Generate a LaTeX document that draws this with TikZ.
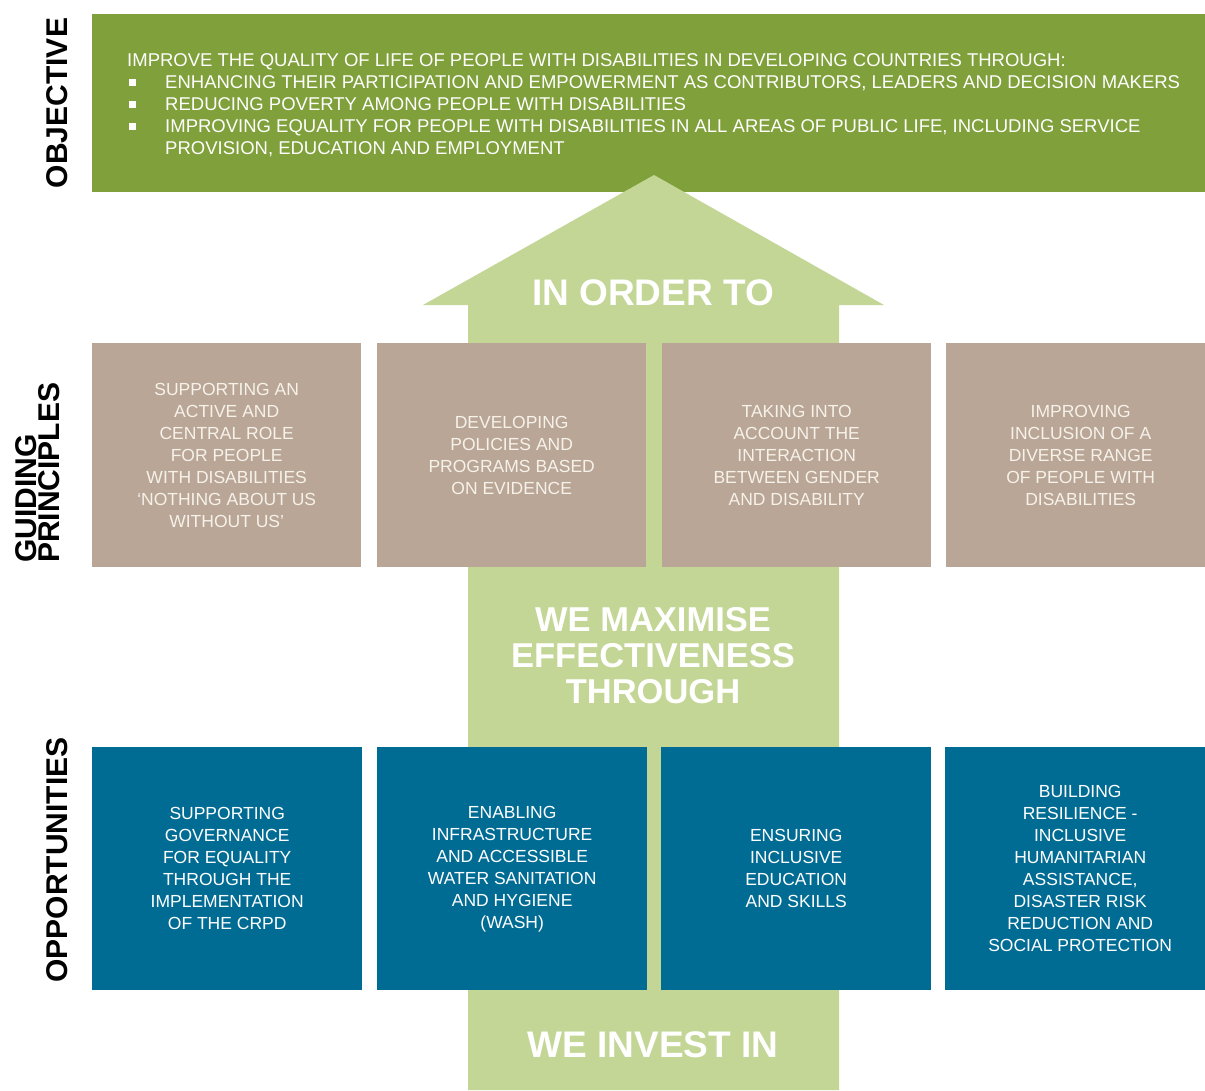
\documentclass[tikz,border=0pt]{standalone}
\usepackage{fontspec}
\setmainfont{Liberation Sans}
\definecolor{objgreen}{RGB}{127,160,58}
\definecolor{arrowgreen}{RGB}{195,214,150}
\definecolor{tanbox}{RGB}{185,166,150}
\definecolor{bluebox}{RGB}{0,108,148}
\definecolor{tantext}{RGB}{246,242,234}
\newcommand{\objbullet}{\makebox[38pt][l]{\hspace*{2pt}\raisebox{3pt}{\rule{6.5pt}{6.5pt}}}}
\begin{document}
\begin{tikzpicture}[x=1pt,y=-1pt,
  sidelabel/.style={rotate=90,font=\fontsize{30}{23}\selectfont\bfseries,text=black,inner sep=0pt,align=left},
  gpbox/.style={fill=tanbox,text=tantext,minimum width=269pt,minimum height=224pt,inner sep=0pt,anchor=north west,align=center,font=\fontsize{17.5}{22}\selectfont},
  opbox/.style={fill=bluebox,text=white,minimum width=270pt,minimum height=243pt,inner sep=0pt,anchor=north west,align=center,font=\fontsize{17.5}{22}\selectfont},
  arrowtext/.style={text=white,font=\bfseries,align=center,inner sep=0pt}]
\useasboundingbox (0,0) rectangle (1205,1090);
\clip (0,0) rectangle (1205,1090);
% objective band
\node[fill=objgreen,minimum width=1113pt,minimum height=178pt,anchor=north west,inner sep=0pt] (objband) at (92,14) {};
\node[anchor=north west,text=white,align=left,inner sep=0pt,font=\fontsize{18.5}{22}\selectfont] (objtext) at (127,53.5)
{IMPROVE THE QUALITY OF LIFE OF PEOPLE WITH DISABILITIES IN DEVELOPING COUNTRIES THROUGH:\\
\objbullet ENHANCING THEIR PARTICIPATION AND EMPOWERMENT AS CONTRIBUTORS, LEADERS AND DECISION MAKERS\\
\objbullet REDUCING POVERTY AMONG PEOPLE WITH DISABILITIES\\
\objbullet IMPROVING EQUALITY FOR PEOPLE WITH DISABILITIES IN ALL AREAS OF PUBLIC LIFE, INCLUDING SERVICE\\
\hspace*{38pt}PROVISION, EDUCATION AND EMPLOYMENT};
% big arrow
\fill[arrowgreen] (468,1090) -- (468,305) -- (423,305) -- (654,175) -- (884,305) -- (839,305) -- (839,1090) -- cycle;
% side labels
\node[sidelabel] (lobj) at (57.5,103) {OBJECTIVE};
\node[sidelabel,anchor=west] (lgp) at (37.5,563) {GUIDING\\PRINCIPLES};
\node[sidelabel] (lopp) at (57.5,860) {OPPORTUNITIES};
% arrow texts
\node[arrowtext,font=\fontsize{37}{36}\selectfont\bfseries] (inorder) at (653,293) {IN ORDER TO};
\node[arrowtext,font=\fontsize{34.5}{36}\selectfont\bfseries] (maxim) at (653,656) {WE MAXIMISE\\EFFECTIVENESS\\THROUGH};
\node[arrowtext,font=\fontsize{37}{36}\selectfont\bfseries] (invest) at (653,1045) {WE INVEST IN};
% guiding principles
\node[gpbox] (gp1) at (92,343) {SUPPORTING AN\\ACTIVE AND\\CENTRAL ROLE\\FOR PEOPLE\\WITH DISABILITIES\\`NOTHING ABOUT US\\WITHOUT US'};
\node[gpbox] (gp2) at (377,343) {DEVELOPING\\POLICIES AND\\PROGRAMS BASED\\ON EVIDENCE};
\node[gpbox] (gp3) at (662,343) {TAKING INTO\\ACCOUNT THE\\INTERACTION\\BETWEEN GENDER\\AND DISABILITY};
\node[gpbox] (gp4) at (946,343) {IMPROVING\\INCLUSION OF A\\DIVERSE RANGE\\OF PEOPLE WITH\\DISABILITIES};
% opportunities
\node[opbox] (op1) at (92,747) {SUPPORTING\\GOVERNANCE\\FOR EQUALITY\\THROUGH THE\\IMPLEMENTATION\\OF THE CRPD};
\node[opbox] (op2) at (377,747) {ENABLING\\INFRASTRUCTURE\\AND ACCESSIBLE\\WATER SANITATION\\AND HYGIENE\\(WASH)};
\node[opbox] (op3) at (661,747) {ENSURING\\INCLUSIVE\\EDUCATION\\AND SKILLS};
\node[opbox] (op4) at (945,747) {BUILDING\\RESILIENCE -\\INCLUSIVE\\HUMANITARIAN\\ASSISTANCE,\\DISASTER RISK\\REDUCTION AND\\SOCIAL PROTECTION};
\end{tikzpicture}
\end{document}
